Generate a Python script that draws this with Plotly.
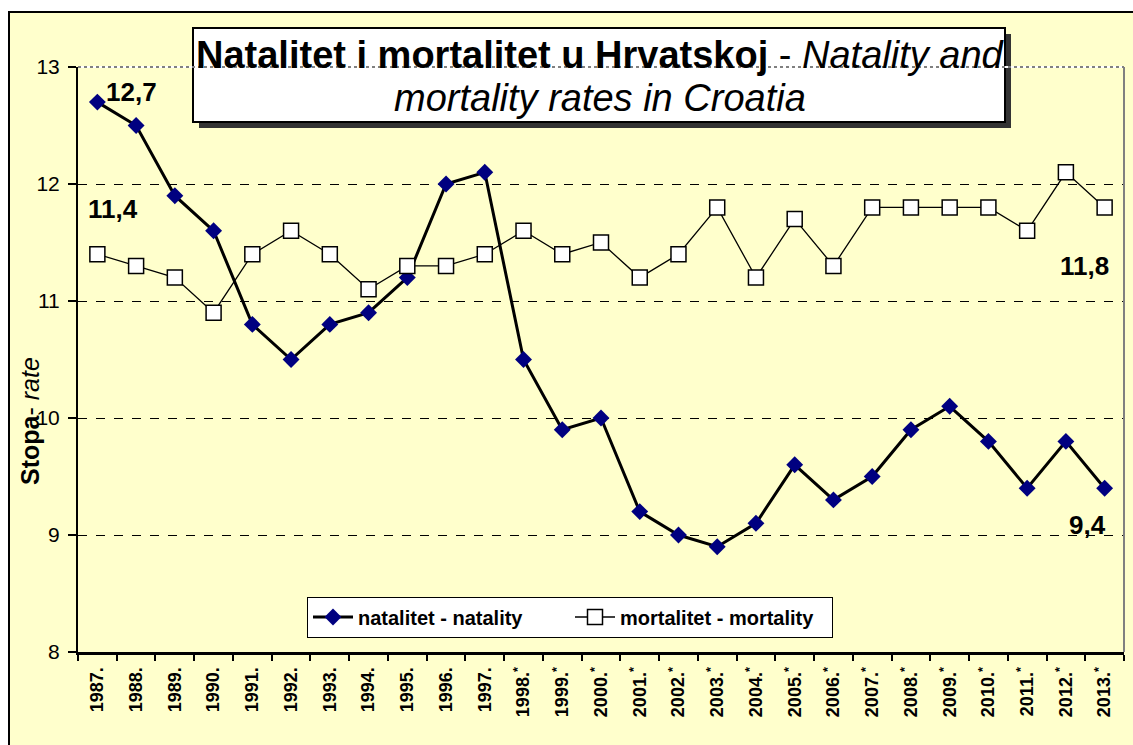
import plotly.graph_objects as go

years = ["1987.", "1988.", "1989.", "1990.", "1991.", "1992.", "1993.", "1994.", "1995.", "1996.", "1997.",
         "1998.<sup>*</sup>", "1999.<sup>*</sup>", "2000.<sup>*</sup>", "2001.<sup>*</sup>", "2002.<sup>*</sup>",
         "2003.<sup>*</sup>", "2004.<sup>*</sup>", "2005.<sup>*</sup>", "2006.<sup>*</sup>", "2007.<sup>*</sup>",
         "2008.<sup>*</sup>", "2009.<sup>*</sup>", "2010.<sup>*</sup>", "2011.<sup>*</sup>", "2012.<sup>*</sup>",
         "2013.<sup>*</sup>"]
natality = [12.7, 12.5, 11.9, 11.6, 10.8, 10.5, 10.8, 10.9, 11.2, 12.0, 12.1, 10.5, 9.9, 10.0, 9.2, 9.0,
            8.9, 9.1, 9.6, 9.3, 9.5, 9.9, 10.1, 9.8, 9.4, 9.8, 9.4]
mortality = [11.4, 11.3, 11.2, 10.9, 11.4, 11.6, 11.4, 11.1, 11.3, 11.3, 11.4, 11.6, 11.4, 11.5, 11.2, 11.4,
             11.8, 11.2, 11.7, 11.3, 11.8, 11.8, 11.8, 11.8, 11.6, 12.1, 11.8]
yticks = [8, 9, 10, 11, 12, 13]

def fmt(v):
    return f"{v:.1f}".replace(".", ",")

FONT = "Liberation Sans, Arial, sans-serif"
NARROW = "Liberation Sans Narrow, Arial Narrow, Liberation Sans, sans-serif"

def px_x(p):
    return (p - 78) / 1046.0

def px_y(p):
    return (652 - p) / 585.0

fig = go.Figure()
fig.add_trace(go.Scatter(
    x=years, y=natality, name="natalitet - natality", mode="lines+markers",
    line=dict(color="black", width=3),
    marker=dict(symbol="diamond", size=13, color="#000080", line=dict(width=0)),
))
fig.add_trace(go.Scatter(
    x=years, y=mortality, name="mortalitet - mortality", mode="lines+markers",
    line=dict(color="black", width=1.3),
    marker=dict(symbol="square", size=15, color="white", line=dict(color="black", width=1.5)),
))

first = 0
last = len(years) - 1
LBL = dict(family=FONT, size=26, color="black")
ann = [
    dict(x=first, y=natality[first], text=f"<b>{fmt(natality[first])}</b>", showarrow=False,
         xanchor="left", yanchor="middle", xshift=7, yshift=10, font=LBL),
    dict(x=first, y=mortality[first], text=f"<b>{fmt(mortality[first])}</b>", showarrow=False,
         xanchor="left", yanchor="middle", xshift=-11, yshift=45, font=LBL),
    dict(x=last, y=mortality[last], text=f"<b>{fmt(mortality[last])}</b>", showarrow=False,
         xanchor="right", yanchor="middle", xshift=6, yshift=-59, font=LBL),
    dict(x=last, y=natality[last], text=f"<b>{fmt(natality[last])}</b>", showarrow=False,
         xanchor="right", yanchor="middle", xshift=3, yshift=-37, font=LBL),
    dict(xref="paper", yref="paper", x=px_x(30), y=px_y(421), text="<b>Stopa</b>- <i>rate</i>",
         textangle=-90, showarrow=False, xanchor="center", yanchor="middle",
         font=dict(family=FONT, size=25, color="black")),
    dict(xref="paper", yref="paper", x=px_x(600), y=px_y(55), showarrow=False,
         xanchor="center", yanchor="middle",
         text="<b>Natalitet i mortalitet u Hrvatskoj</b> - <i>Natality and</i>",
         font=dict(family=NARROW, size=38, color="black")),
    dict(xref="paper", yref="paper", x=px_x(600), y=px_y(98), showarrow=False,
         xanchor="center", yanchor="middle",
         text="<i>mortality rates in Croatia</i>",
         font=dict(family=NARROW, size=38, color="black")),
]

shapes = [
    dict(type="rect", xref="paper", yref="paper", layer="below",
         x0=px_x(9), x1=px_x(1160), y0=px_y(780), y1=px_y(12),
         fillcolor="#FFFFCC", line=dict(color="black", width=2)),
    dict(type="rect", xref="paper", yref="paper", layer="above",
         x0=px_x(199), x1=px_x(1011), y0=px_y(128), y1=px_y(34),
         fillcolor="#333333", line=dict(width=0)),
    dict(type="rect", xref="paper", yref="paper", layer="above",
         x0=px_x(193), x1=px_x(1005), y0=px_y(122), y1=px_y(28),
         fillcolor="white", line=dict(color="black", width=2)),
    dict(type="line", xref="paper", yref="paper", layer="above",
         x0=0, x1=1, y0=1, y1=1, line=dict(color="white", width=2)),
    dict(type="line", xref="paper", yref="paper", layer="above",
         x0=0, x1=1, y0=1, y1=1, line=dict(color="#808080", width=2, dash="dot")),
    dict(type="line", xref="paper", yref="paper", layer="above",
         x0=1, x1=1, y0=0, y1=1, line=dict(color="#808080", width=2)),
]

fig.update_layout(
    width=1133, height=745,
    margin=dict(l=78, r=9, t=67, b=93, pad=0, autoexpand=False),
    paper_bgcolor="white", plot_bgcolor="white",
    showlegend=True,
    legend=dict(orientation="h", x=px_x(307), y=px_y(617), xanchor="left", yanchor="middle",
                bgcolor="white", bordercolor="black", borderwidth=1,
                font=dict(family=FONT, size=20, color="black", weight="bold"),
                itemwidth=40, tracegroupgap=0, traceorder="normal",
                entrywidth=207, entrywidthmode="pixels"),
    xaxis=dict(type="category", tickangle=-90, tickson="boundaries", ticks="outside", ticklen=6,
               tickwidth=2, tickcolor="black", showline=True, linecolor="black", linewidth=3,
               showgrid=False, tickfont=dict(family=FONT, size=18, color="black", weight="bold"),
               ticklabelstandoff=5, automargin=False,
               range=[-0.5, len(years) - 0.5], fixedrange=True),
    yaxis=dict(range=[8, 13], tickvals=yticks, ticktext=[str(t) for t in yticks],
               ticks="outside", ticklen=8, tickwidth=2, tickcolor="black",
               showline=True, linecolor="black", linewidth=2, automargin=False,
               showgrid=True, gridcolor="black", gridwidth=1, griddash="dash",
               ticklabelstandoff=4,
               zeroline=False, tickfont=dict(family=FONT, size=21, color="black"), fixedrange=True),
    annotations=ann, shapes=shapes,
)

fig.write_html("out.html", config={"displayModeBar": False},
               post_script="document.body.style.margin='0';document.body.style.padding='0';")
